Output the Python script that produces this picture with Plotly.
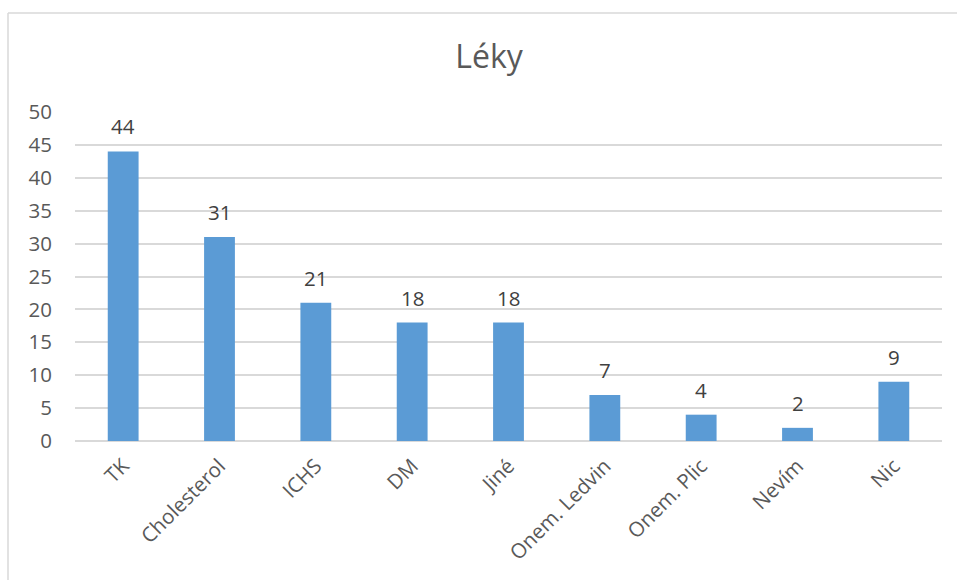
import plotly.graph_objects as go

# Medication categories and number of respondents
categories = ["TK", "Cholesterol", "ICHS", "DM", "Jiné", "Onem. Ledvin", "Onem. Plic", "Nevím", "Nic"]
counts = [44, 31, 21, 18, 18, 7, 4, 2, 9]
y_ticks = [0, 5, 10, 15, 20, 25, 30, 35, 40, 45, 50]

W, H = 957, 580
FONT = "Open Sans"
BAR_COLOR = "#5B9BD5"
GRID_COLOR = "#D9D9D9"
TEXT_COLOR = "#595959"
LABEL_COLOR = "#404040"
TICK_SIZE = 20.5

ML, MR, MT, MB = 75, 15, 112, 139
pw, ph = W - ML - MR, H - MT - MB

fig = go.Figure(
    go.Bar(
        x=categories,
        y=counts,
        marker=dict(color=BAR_COLOR, line=dict(width=0)),
        hoverinfo="x+y",
    )
)

# value labels above each bar
for c, v in zip(categories, counts):
    fig.add_annotation(
        x=c, y=v, text=str(v), showarrow=False,
        yanchor="bottom", yshift=9,
        font=dict(family=FONT, size=TICK_SIZE, color=LABEL_COLOR),
    )

# chart-area border (top and left edges visible)
x0 = (8 - ML) / pw
y1 = (H - MB - 13) / ph
fig.add_shape(type="line", xref="paper", yref="paper",
              x0=x0, x1=(W + 20 - ML) / pw, y0=y1, y1=y1,
              line=dict(color="#D9D9D9", width=1.5))
fig.add_shape(type="line", xref="paper", yref="paper",
              x0=x0, x1=x0, y0=y1, y1=(H - MB - (H + 20)) / ph,
              line=dict(color="#D9D9D9", width=1.5))

fig.update_layout(
    width=W, height=H,
    margin=dict(l=ML, r=MR, t=MT, b=MB),
    paper_bgcolor="white", plot_bgcolor="white",
    bargap=0.68,
    showlegend=False,
    title=dict(
        text="Léky", x=489 / W, xanchor="center", xref="container",
        y=1 - 57 / H, yanchor="middle", yref="container",
        font=dict(family=FONT, size=32, color=TEXT_COLOR),
    ),
    font=dict(family=FONT, color=TEXT_COLOR),
)

fig.update_yaxes(
    range=[0, 50], tickvals=y_ticks,
    showgrid=True, gridcolor=GRID_COLOR, gridwidth=1.5,
    zeroline=True, zerolinecolor=GRID_COLOR, zerolinewidth=1.5,
    showline=False, ticks="", ticklabelstandoff=22,
    tickfont=dict(family=FONT, size=TICK_SIZE, color=TEXT_COLOR),
)
fig.update_xaxes(
    tickangle=-45, showgrid=False, showline=False, ticks="",
    ticklabelstandoff=8,
    tickfont=dict(family=FONT, size=TICK_SIZE, color=TEXT_COLOR),
)

fig.write_html("out.html")
